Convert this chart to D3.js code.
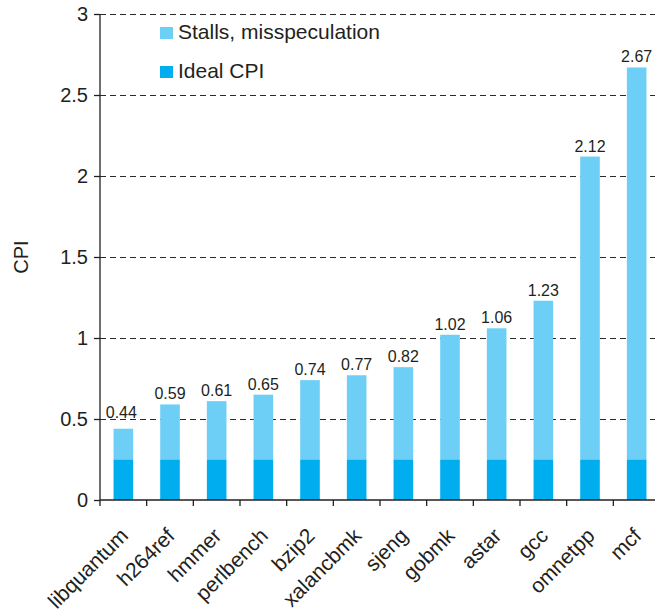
<!DOCTYPE html>
<html><head><meta charset="utf-8">
<script src="https://cdn.jsdelivr.net/npm/d3@7"></script>
<style>body{margin:0;background:#fff}svg{display:block}</style>
</head><body>
<svg id="c" width="655" height="612"></svg>
<script>
const categories = ["libquantum","h264ref","hmmer","perlbench","bzip2","xalancbmk","sjeng","gobmk","astar","gcc","omnetpp","mcf"];
const totalCPI = [0.44,0.59,0.61,0.65,0.74,0.77,0.82,1.02,1.06,1.23,2.12,2.67];
const idealCPI = [0.25,0.25,0.25,0.25,0.25,0.25,0.25,0.25,0.25,0.25,0.25,0.25];
const yTicks = [0,0.5,1,1.5,2,2.5,3];
const yTickLabels = ["0","0.5","1","1.5","2","2.5","3"];
const seriesNames = ["Stalls, misspeculation","Ideal CPI"];
const colors = {ideal:"#00aeef", stall:"#6dcff6"};

const svg = d3.select("#c");
const font = "'Liberation Sans', Arial, sans-serif";
const ink = "#231f20";
const x = d3.scaleBand().domain(categories).range([100, 660]).paddingInner(0.58).paddingOuter(0.29);
const y = d3.scaleLinear().domain([0,3]).range([500, 14]);

// gridlines
svg.append("g").selectAll("line").data(yTicks.filter(d=>d>0)).join("line")
  .attr("x1",100).attr("x2",660).attr("y1",d=>y(d)+0.5).attr("y2",d=>y(d)+0.5)
  .attr("stroke","#2a2a2a").attr("stroke-width",1).attr("stroke-dasharray","6,4");

const data = categories.map((c,i)=>({c, total: totalCPI[i], ideal: idealCPI[i]}));
svg.append("g").selectAll("rect").data(data).join("rect")
  .attr("x",d=>x(d.c)).attr("width",x.bandwidth())
  .attr("y",d=>y(d.total)).attr("height",d=>y(d.ideal)-y(d.total))
  .attr("fill",colors.stall);
svg.append("g").selectAll("rect").data(data).join("rect")
  .attr("x",d=>x(d.c)).attr("width",x.bandwidth())
  .attr("y",d=>y(d.ideal)).attr("height",d=>y(0)-y(d.ideal))
  .attr("fill",colors.ideal);

// value labels (first one sits higher in the original)
svg.append("g").selectAll("text").data(data).join("text")
  .attr("x",(d,i)=>x(d.c)+x.bandwidth()/2-(i===0?2:0))
  .attr("y",(d,i)=>y(d.total)-(i===0?11:5))
  .attr("text-anchor","middle").attr("font-family",font).attr("font-size",16).attr("fill",ink)
  .text(d=>d.total.toFixed(2));

// y axis
const yAxis = d3.axisLeft(y).tickValues(yTicks).tickFormat((d,i)=>yTickLabels[i]).tickSize(6).tickPadding(6);
const gy = svg.append("g").attr("transform","translate(100,0)").call(yAxis);
gy.select(".domain").attr("stroke",ink).attr("stroke-width",1.3).attr("d","M0,14V500");
gy.selectAll(".tick line").attr("stroke",ink).attr("stroke-width",1.3);
gy.selectAll(".tick text").attr("font-family",font).attr("font-size",20).attr("fill",ink);

// x axis
const xTickPos = d3.range(categories.length+1).map(i=>100+i*(560/12));
const gx = svg.append("g");
gx.append("line").attr("x1",100).attr("x2",660).attr("y1",500).attr("y2",500).attr("stroke",ink).attr("stroke-width",1.3);
gx.selectAll("line.t").data(xTickPos).join("line").attr("class","t")
  .attr("x1",d=>d).attr("x2",d=>d).attr("y1",500).attr("y2",506).attr("stroke",ink).attr("stroke-width",1.3);
gx.selectAll("text").data(categories).join("text")
  .attr("transform",d=>`translate(${x(d)+x.bandwidth()/2+6},${537}) rotate(-45)`)
  .attr("text-anchor","end").attr("font-family",font).attr("font-size",21).attr("fill",ink)
  .text(d=>d);

// y label
svg.append("text").attr("transform","translate(28,257) rotate(-90)").attr("text-anchor","middle")
  .attr("font-family",font).attr("font-size",20).attr("fill",ink).text("CPI");

// legend
const leg = svg.append("g");
[[seriesNames[0],colors.stall,39],[seriesNames[1],colors.ideal,78]].forEach(([t,c,yy])=>{
  leg.append("rect").attr("x",160).attr("y",yy-12).attr("width",13).attr("height",12).attr("fill",c);
  leg.append("text").attr("x",178).attr("y",yy).attr("font-family",font).attr("font-size",21).attr("fill",ink).text(t);
});
</script>
</body></html>
